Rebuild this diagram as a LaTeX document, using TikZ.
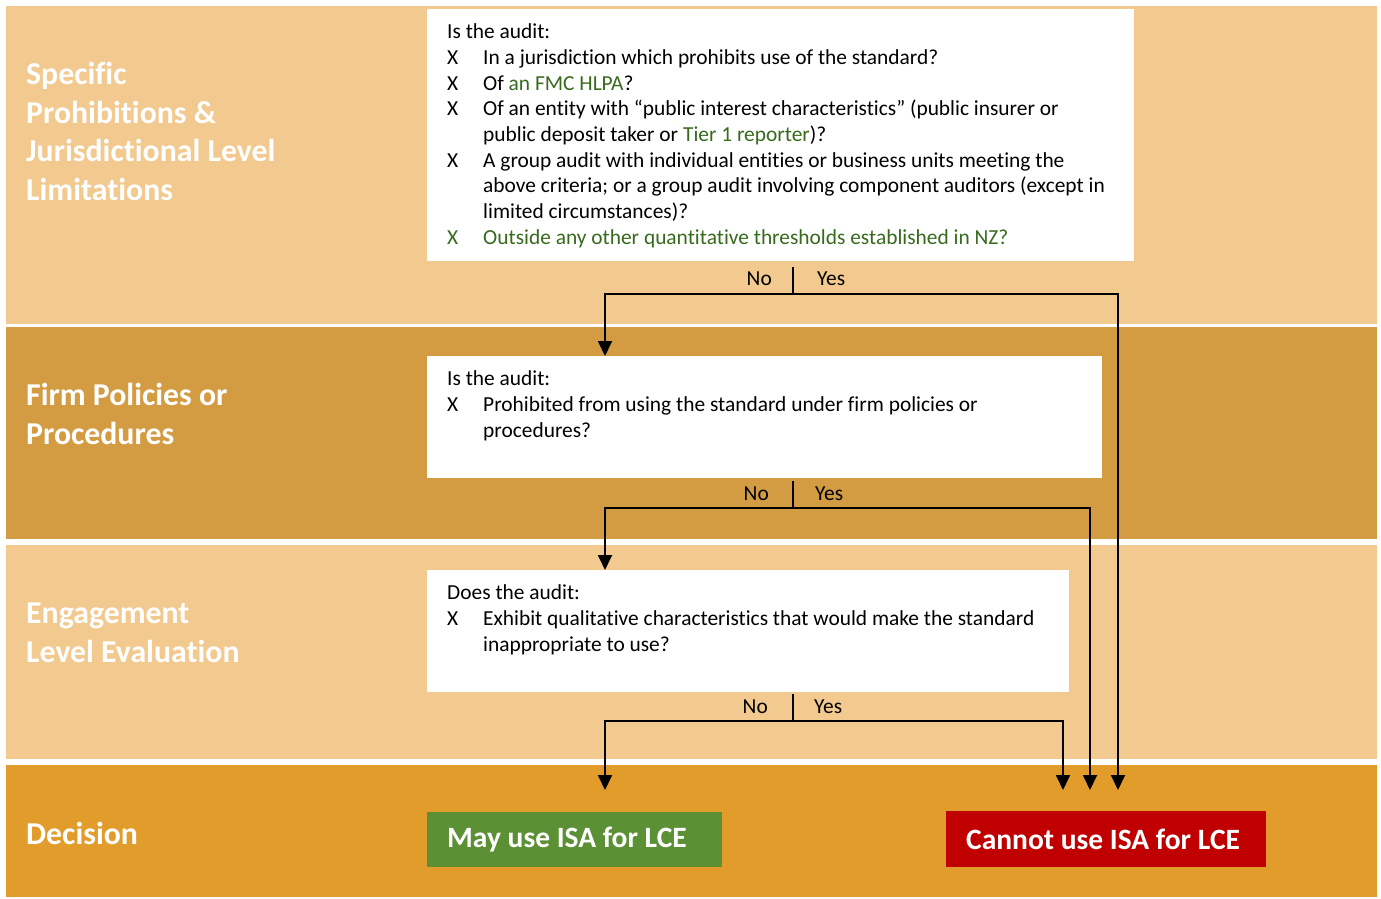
\documentclass[tikz,border=0pt]{standalone}
\usepackage{fontspec}
\setmainfont{Carlito}[Ligatures=NoCommon]
\usepackage{xcolor}
\usepackage{tikz}
\usetikzlibrary{arrows.meta, positioning}
\definecolor{bandlight}{RGB}{242, 201, 142}
\definecolor{banddark}{RGB}{212, 156, 66}
\definecolor{banddecision}{RGB}{226, 156, 43}
\definecolor{linkgreen}{RGB}{56, 106, 30}
\definecolor{maygreen}{RGB}{92, 144, 53}
\definecolor{cannotred}{RGB}{192, 0, 0}
% one "X" line of a question box, \brk breaks inside it
\newcommand{\xitem}[2][black]{\par\hangindent=36pt\hangafter=1\noindent{\color{#1}\makebox[36pt][l]{X}#2}}
\newcommand{\brk}{\hfil\break}

\begin{document}
\begin{tikzpicture}[
    x=1pt, y=-1pt,
    band/.style={rectangle, draw=none, inner sep=0, anchor=north west, minimum width=1371pt},
    bandlabel/.style={anchor=west, inner sep=0, align=left, text=white, font=\fontsize{31.8}{38.5}\selectfont\bfseries},
    qbox/.style={rectangle, fill=white, anchor=north west, inner xsep=20pt, inner ysep=11.5pt, font=\fontsize{21.4}{25.7}\selectfont},
    answer/.style={inner sep=0, font=\fontsize{21.4}{25.7}\selectfont},
    decision/.style={rectangle, anchor=north west, inner xsep=20pt, inner ysep=0, minimum height=55pt, text=white, font=\fontsize{29.5}{32}\selectfont\bfseries},
    tick/.style={line width=1.2pt},
    flow/.style={line width=1.8pt, -{Triangle[width=14pt, length=15pt]}}
]
    \fill[white] (0,0) rectangle (1381,898);
    \useasboundingbox (0,0) rectangle (1381,898);

    % Bands
    \node[band, fill=bandlight, minimum height=318pt] (b1) at (6,6) {};
    \node[band, fill=banddark, minimum height=212pt] (b2) at (6,327) {};
    \node[band, fill=bandlight, minimum height=214pt] (b3) at (6,545) {};
    \node[band, fill=banddecision, minimum height=132pt] (b4) at (6,765) {};

    \node[bandlabel] (l1) at (26,131.5) {Specific\\Prohibitions \&\\Jurisdictional Level\\Limitations};
    \node[bandlabel] (l2) at (26,414) {Firm Policies or\\Procedures};
    \node[bandlabel] (l3) at (26,633) {Engagement\\Level Evaluation};
    \node[bandlabel] (l4) at (26,833) {Decision};

    % Questions
    \node[qbox] (q1) at (427,9) {\parbox[t][229pt][t]{667pt}{\raggedright\strut Is the audit:
        \xitem{In a jurisdiction which prohibits use of the standard?}
        \xitem{Of {\color{linkgreen}an FMC HLPA}?}
        \xitem{Of an entity with “public interest characteristics” (public insurer or\brk public deposit taker or {\color{linkgreen}Tier 1 reporter})?}
        \xitem{A group audit with individual entities or business units meeting the\brk above criteria; or a group audit involving component auditors (except in\brk limited circumstances)?}
        \xitem[linkgreen]{Outside any other quantitative thresholds established in NZ?}}};
    \node[qbox] (q2) at (427,356) {\parbox[t][99pt][t]{635pt}{\raggedright\strut Is the audit:
        \xitem{Prohibited from using the standard under firm policies or\brk procedures?}}};
    \node[qbox] (q3) at (427,570) {\parbox[t][99pt][t]{602pt}{\raggedright\strut Does the audit:
        \xitem{Exhibit qualitative characteristics that would make the standard\brk inappropriate to use?}}};

    % Decisions
    \node[decision, fill=maygreen] (may) at (427,812) {\makebox[255pt][l]{May use ISA for LCE}};
    \node[decision, fill=cannotred, minimum height=56pt] (cannot) at (946,811) {\makebox[280pt][l]{Cannot use ISA for LCE}};

    % Answers and flows
    \coordinate (t1) at (793,267);
    \coordinate (s1) at (793,294);
    \coordinate (t2) at (793,481);
    \coordinate (s2) at (793,508);
    \coordinate (t3) at (793,694);
    \coordinate (s3) at (793,721);
    \coordinate (m1) at (605,790);
    \coordinate (c1) at (1118,790);
    \coordinate (c2) at (1090,790);
    \coordinate (c3) at (1063,790);

    \node[answer, anchor=east] (no1) at (772,279) {No};
    \node[answer, anchor=west] (yes1) at (817,279) {Yes};
    \node[answer, anchor=east] (no2) at (769,494) {No};
    \node[answer, anchor=west] (yes2) at (815,494) {Yes};
    \node[answer, anchor=east] (no3) at (768,707) {No};
    \node[answer, anchor=west] (yes3) at (814,707) {Yes};

    \draw[tick] (t1) -- (s1);
    \draw[tick] (t2) -- (s2);
    \draw[tick] (t3) -- (s3);

    \draw[flow] (s1) -| ([xshift=178pt]q2.north west);
    \draw[flow] (s1) -| (c1);
    \draw[flow] (s2) -| ([xshift=178pt]q3.north west);
    \draw[flow] (s2) -| (c2);
    \draw[flow] (s3) -| (m1);
    \draw[flow] (s3) -| (c3);
\end{tikzpicture}
\end{document}
